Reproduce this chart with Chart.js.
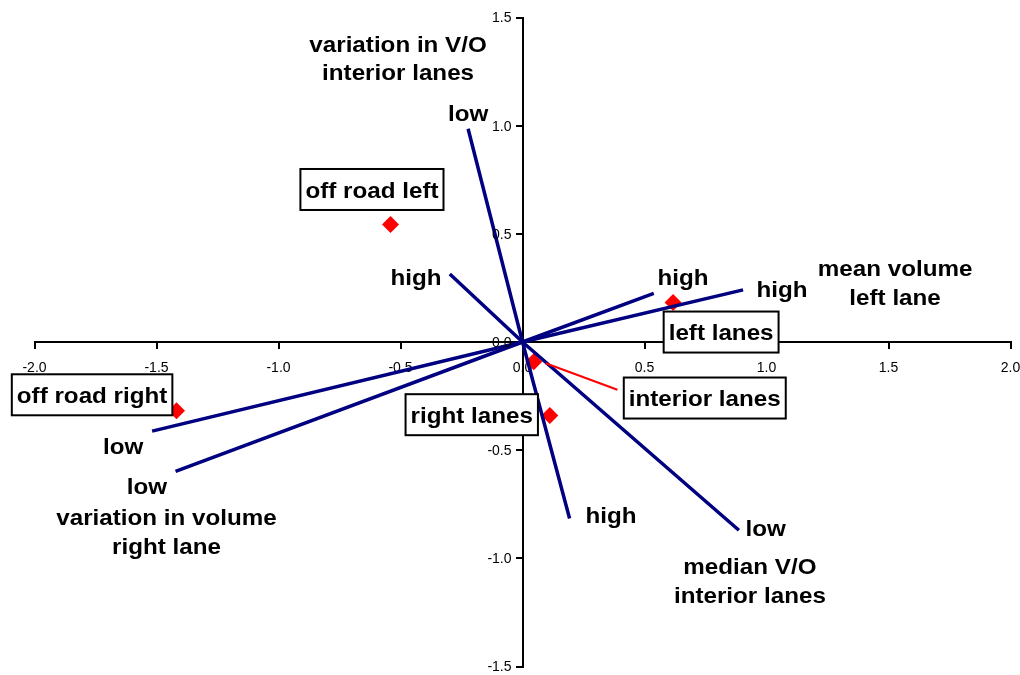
<!DOCTYPE html>
<html>
<head>
<meta charset="utf-8">
<script src="https://cdn.jsdelivr.net/npm/chart.js@4/dist/chart.umd.min.js"></script>
<style>
  html, body { margin: 0; padding: 0; background: #fff; }
  #wrap { width: 1020px; height: 675px; position: relative; }
</style>
</head>
<body>
<div id="wrap"><canvas id="biplot"></canvas></div>
<script>
// Variable vectors: each runs from its "low" end through the origin to its "high" end
const vectorNames = [
  'variation in V/O interior lanes',
  'median V/O interior lanes',
  'variation in volume right lane',
  'mean volume left lane'
];
const vectorLowX  = [-0.223,  0.887, -1.422, -1.518];
const vectorLowY  = [ 0.986, -0.870, -0.598, -0.412];
const vectorHighX = [ 0.193, -0.298,  0.538,  0.904];
const vectorHighY = [-0.816,  0.314,  0.225,  0.241];

// Group centroids
const groupNames = ['off road left', 'off road right', 'left lanes', 'interior lanes', 'right lanes'];
const groupX = [-0.541, -1.418, 0.617, 0.046, 0.112];
const groupY = [ 0.543, -0.318, 0.183, -0.091, -0.340];

// Axis ticks
const xTickValues = [-2, -1.5, -1, -0.5, 0, 0.5, 1, 1.5, 2];
const xTickLabels = ['-2.0', '-1.5', '-1.0', '-0.5', '0.0', '0.5', '1.0', '1.5', '2.0'];
const yTickValues = [-1.5, -1, -0.5, 0, 0.5, 1, 1.5];
const yTickLabels = ['-1.5', '-1.0', '-0.5', '0.0', '0.5', '1.0', '1.5'];

// Text placed on the plot (data coordinates of the text centre)
const plainLabels = [
  { lines: ['variation in V/O', 'interior lanes'], x: -0.510, y: 1.384 },
  { lines: ['low'], x: -0.223, y: 1.065 },
  { lines: ['high'], x: -0.436, y: 0.306 },
  { lines: ['high'], x: 0.658, y: 0.306 },
  { lines: ['high'], x: 1.064, y: 0.249 },
  { lines: ['mean volume', 'left lane'], x: 1.527, y: 0.346 },
  { lines: ['low'], x: -1.637, y: -0.478 },
  { lines: ['low'], x: -1.539, y: -0.662 },
  { lines: ['variation in volume', 'right lane'], x: -1.459, y: -0.806 },
  { lines: ['high'], x: 0.363, y: -0.793 },
  { lines: ['low'], x: 0.997, y: -0.857 },
  { lines: ['median V/O', 'interior lanes'], x: 0.932, y: -1.032 }
];
const boxedLabels = [
  { text: 'off road left',  x: -0.617, y: 0.705 },
  { text: 'off road right', x: -1.764, y: -0.244 },
  { text: 'left lanes',     x: 0.814, y: 0.046 },
  { text: 'interior lanes', x: 0.747, y: -0.259 },
  { text: 'right lanes',    x: -0.208, y: -0.336 }
];
// Leader from the "interior lanes" marker to its label
const leader = { x1: 0.095, y1: -0.098, x2: 0.389, y2: -0.221 };

const NAVY = '#000080';
const RED = '#ff0000';
const LABEL_FONT = 'bold 22px "Liberation Sans", Arial, sans-serif';
const TICK_FONT_CSS = '14px "Liberation Sans", Arial, sans-serif';
const STRETCH = 1.1;
const LINE_GAP = 28.5;
const TEXT_DROP = 3;
const TICK_LEN = 6;

const vectorDatasets = vectorNames.map((name, i) => ({
  label: name,
  data: [
    { x: vectorLowX[i], y: vectorLowY[i] },
    { x: 0, y: 0 },
    { x: vectorHighX[i], y: vectorHighY[i] }
  ],
  showLine: true,
  borderColor: NAVY,
  borderWidth: 3.5,
  pointRadius: 0,
  pointHoverRadius: 0,
  fill: false,
  tension: 0
}));

const groupDataset = {
  label: 'groups',
  data: groupNames.map((n, i) => ({ x: groupX[i], y: groupY[i] })),
  pointStyle: 'rectRot',
  pointRadius: 8.5,
  backgroundColor: RED,
  borderColor: RED,
  borderWidth: 0,
  showLine: false
};

function stretchedText(ctx, str, x, y) {
  ctx.save();
  ctx.translate(x, y);
  ctx.scale(STRETCH, 1);
  ctx.fillText(str, 0, 0);
  ctx.restore();
}

const annotationPlugin = {
  id: 'biplotText',
  afterDatasetsDraw(chart) {
    const { ctx, scales: { x, y } } = chart;
    ctx.save();

    // y-axis tick labels, placed to the left of the axis line
    const axisX = x.getPixelForValue(0);
    ctx.font = TICK_FONT_CSS;
    ctx.fillStyle = '#000';
    ctx.textAlign = 'right';
    ctx.textBaseline = 'middle';
    yTickValues.forEach((v, i) => {
      ctx.fillText(yTickLabels[i], axisX - TICK_LEN - 5, y.getPixelForValue(v) + 1);
    });

    // leader line
    ctx.strokeStyle = RED;
    ctx.lineWidth = 2;
    ctx.beginPath();
    ctx.moveTo(x.getPixelForValue(leader.x1), y.getPixelForValue(leader.y1));
    ctx.lineTo(x.getPixelForValue(leader.x2), y.getPixelForValue(leader.y2));
    ctx.stroke();

    ctx.font = LABEL_FONT;
    ctx.fillStyle = '#000';
    ctx.textAlign = 'center';
    ctx.textBaseline = 'middle';
    plainLabels.forEach(l => {
      const px = x.getPixelForValue(l.x);
      const py = y.getPixelForValue(l.y) + TEXT_DROP;
      l.lines.forEach((s, k) => stretchedText(ctx, s, px, py + k * LINE_GAP));
    });

    boxedLabels.forEach(b => {
      const px = x.getPixelForValue(b.x);
      const py = y.getPixelForValue(b.y);
      const w = ctx.measureText(b.text).width * STRETCH + 10;
      const h = 41;
      ctx.fillStyle = '#fff';
      ctx.fillRect(px - w / 2, py - h / 2, w, h);
      ctx.strokeStyle = '#000';
      ctx.lineWidth = 2;
      ctx.strokeRect(px - w / 2, py - h / 2, w, h);
      ctx.fillStyle = '#000';
      stretchedText(ctx, b.text, px, py + 2);
    });
    ctx.restore();
  }
};

function noPadding(scale) {
  scale.paddingLeft = 0;
  scale.paddingRight = 0;
  scale.paddingTop = 0;
  scale.paddingBottom = 0;
}

const tickFont = { family: '"Liberation Sans", Arial, sans-serif', size: 14 };

new Chart(document.getElementById('biplot'), {
  type: 'scatter',
  data: { datasets: [...vectorDatasets, groupDataset] },
  options: {
    responsive: true,
    maintainAspectRatio: false,
    animation: false,
    events: [],
    layout: { padding: { left: 34.5, right: 9.5, top: 17.5, bottom: 6.5 } },
    plugins: { legend: { display: false }, tooltip: { enabled: false } },
    scales: {
      x: {
        type: 'linear',
        min: -2, max: 2,
        position: { y: 0 },
        afterBuildTicks(s) { s.ticks = xTickValues.map(v => ({ value: v })); },
        afterFit: noPadding,
        ticks: {
          color: '#000',
          font: tickFont,
          padding: 12,
          maxRotation: 0,
          autoSkip: false,
          callback: (v) => xTickLabels[xTickValues.indexOf(v)]
        },
        grid: { drawOnChartArea: false, drawTicks: true, tickLength: TICK_LEN, color: '#000', lineWidth: 2 },
        border: { display: true, color: '#000', width: 2 }
      },
      y: {
        type: 'linear',
        min: -1.5, max: 1.5,
        position: { x: 0 },
        afterBuildTicks(s) { s.ticks = yTickValues.map(v => ({ value: v })); },
        afterFit: noPadding,
        ticks: { display: false, autoSkip: false },
        grid: { drawOnChartArea: false, drawTicks: true, tickLength: TICK_LEN, color: '#000', lineWidth: 2 },
        border: { display: true, color: '#000', width: 2 }
      }
    }
  },
  plugins: [annotationPlugin]
});
</script>
</body>
</html>
